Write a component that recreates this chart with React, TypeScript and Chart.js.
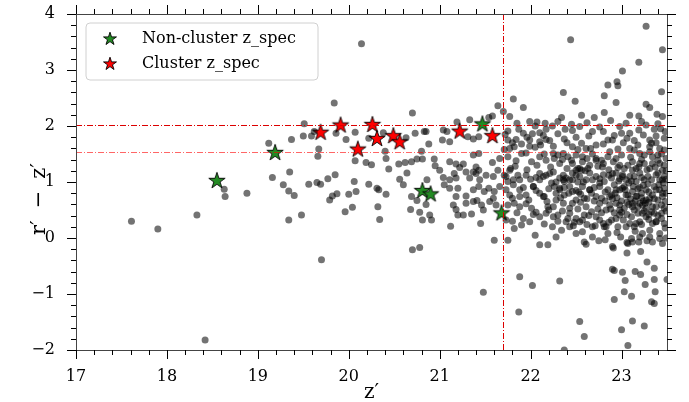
import React, { useEffect, useRef } from 'react';
import { Chart, registerables } from 'chart.js';

Chart.register(...registerables);

// ---------------- data ----------------
const xTicks = [17, 18, 19, 20, 21, 22, 23];
const yTicks = [-2, -1, 0, 1, 2, 3, 4];
const xRange = [17, 23.5];
const yRange = [-2, 4];

const colourCut = [2.02, 1.54]; // horizontal reference lines (r'-z')
const magCut = 21.7; // vertical reference line (z')

const nonClusterSpec: [number, number][] = [
  [18.55, 1.02], [19.19, 1.52], [20.81, 0.84], [20.9, 0.78], [21.47, 2.03], [21.68, 0.44],
];

const clusterSpec: [number, number][] = [
  [19.69, 1.88], [19.91, 2.01], [20.1, 1.58], [20.26, 2.02], [20.31, 1.77],
  [20.49, 1.82], [20.56, 1.71], [21.22, 1.9], [21.58, 1.82],
];

const photometric: [number, number][] = [
  [17.61, 0.3], [17.9, 0.16], [18.33, 0.41], [18.42, -1.82], [18.63, 0.87], [18.64, 0.74], [18.88, 0.8],
  [19.12, 1.69], [19.16, 1.08], [19.28, 0.95], [19.35, 1.18], [19.34, 0.84], [19.4, 0.76], [19.34, 0.32],
  [19.48, 0.41], [19.37, 1.76], [19.5, 1.82], [19.51, 2.04], [19.56, 0.96], [19.59, 1.82], [19.62, 1.9],
  [19.66, 1.46], [19.67, 1.59], [19.65, 0.99], [19.69, 0.96], [19.7, -0.39], [19.77, 1.06], [19.85, 1.13],
  [19.84, 2.41], [19.86, 1.87], [19.79, 0.68], [19.82, 0.75], [19.87, 0.79], [19.96, 0.47], [19.97, 1.76],
  [20.0, 0.78],
  [20.04, 0.55], [20.06, 1.01], [20.07, 1.38], [20.08, 0.83], [20.07, 1.89], [20.14, 3.47], [20.19, 1.35],
  [20.22, 0.96], [20.25, 1.31], [20.22, 1.78], [20.31, 0.89], [20.33, 0.86], [20.32, 0.56], [20.34, 0.33],
  [20.38, 1.88], [20.4, 1.55], [20.41, 1.42], [20.41, 0.78], [20.44, 1.23], [20.55, 1.32], [20.56, 1.05],
  [20.6, 0.95], [20.62, 1.35], [20.64, 1.16], [20.63, 1.79], [20.69, 1.36], [20.7, 2.23], [20.69, 0.74],
  [20.68, 0.51], [20.73, 1.87], [20.7, -0.21], [20.78, -0.17], [20.75, 1.41], [20.75, 0.67], [20.8, 1.55],
  [20.81, 1.41], [20.83, 1.9], [20.85, 1.9], [20.88, 1.68], [20.86, 1.04], [20.85, 0.6], [20.89, 0.41],
  [20.91, 0.32], [20.81, 0.32], [20.78, 0.46], [20.94, 1.41], [20.95, 1.29],
  [21.04, 1.93], [21.08, 1.9], [21.19, 2.07], [21.33, 2.11], [21.03, 1.75], [21.11, 1.72], [21.31, 1.81],
  [21.37, 1.77], [21.43, 1.81], [21.37, 1.48], [21.43, 1.51], [21.58, 1.35], [21.66, 1.42], [21.64, 2.36],
  [21.7, 2.26], [21.58, 2.18], [21.54, 2.15], [21.77, 2.17], [21.81, 2.48], [21.92, 2.33], [21.75, 1.91],
  [21.87, 1.94], [21.92, 1.87], [21.99, 2.08], [22.02, 1.86], [22.07, 2.07], [22.1, 1.88], [22.16, 2.05],
  [22.17, 1.94], [21.75, 1.75], [21.84, 1.76], [21.9, 1.68], [21.99, 1.75], [22.1, 1.72], [22.17, 1.76],
  [21.71, 1.58], [21.77, 1.6], [21.82, 1.63], [21.99, 1.64], [22.11, 1.66], [21.11, 1.36], [21.18, 1.32],
  [21.22, 1.26], [21.26, 1.32], [21.4, 1.27], [21.43, 1.21], [21.37, 1.18], [21.78, 1.24], [21.84, 1.38],
  [21.9, 1.51], [22.01, 1.36], [22.1, 1.45], [22.17, 1.39], [21.0, 1.21], [21.04, 1.08], [21.11, 1.04],
  [21.05, 0.95], [21.16, 1.15], [21.18, 1.07], [21.29, 1.18], [21.33, 1.07], [21.4, 1.15], [21.44, 1.04],
  [21.51, 1.12], [21.59, 1.1], [21.64, 1.21], [21.71, 1.12], [21.75, 1.01], [21.81, 0.95], [21.88, 1.04],
  [21.95, 1.12], [22.06, 1.08], [22.1, 1.15], [22.17, 1.12], [21.11, 0.89], [21.2, 0.89], [21.18, 0.74],
  [21.29, 0.75], [21.37, 0.86], [21.43, 0.92], [21.49, 0.83], [21.54, 0.89], [21.6, 0.83], [21.66, 0.92],
  [21.73, 0.86], [21.77, 0.77], [21.8, 0.71], [21.88, 0.86], [21.95, 0.77], [22.03, 0.92], [22.1, 0.8],
  [22.15, 0.74], [21.15, 0.59], [21.18, 0.51], [21.2, 0.41], [21.26, 0.41], [21.29, 0.62], [21.37, 0.65],
  [21.41, 0.67], [21.46, 0.59], [21.48, 0.5], [21.55, 0.65], [21.59, 0.71], [21.62, 0.59], [21.75, 0.59],
  [21.82, 0.62], [21.88, 0.56], [21.95, 0.61], [22.01, 0.53], [22.06, 0.46], [22.1, 0.38], [22.19, 0.56],
  [21.12, 0.21], [21.35, 0.43], [21.45, 0.26], [21.6, -0.04], [21.73, 0.32], [21.75, -0.04], [21.82, 0.17],
  [21.9, 0.23], [21.92, 0.35], [21.99, 0.29], [22.1, -0.12], [22.19, -0.12],
  [21.48, -0.97], [21.88, -0.69], [21.87, -1.32], [22.02, -0.85], [22.32, -0.77], [22.37, -2.0],
  [22.54, -1.49], [22.59, -1.76], [22.91, -0.18], [23.06, -0.27], [23.21, -0.24], [22.9, -0.56],
  [22.92, -0.58], [23.01, -0.61], [23.04, -0.76], [23.15, -0.6], [23.21, -0.65], [23.28, -0.43],
  [23.36, -0.54], [23.36, -0.74], [23.26, -0.83], [23.03, -0.96], [23.11, -1.04], [23.37, -0.96],
  [22.92, -1.1], [23.33, -1.14], [23.36, -1.17], [23.12, -1.48], [23.0, -1.64], [23.25, -1.57],
  [23.07, -1.92], [23.5, -0.74], [22.59, -0.07], [22.61, -0.11],
  [22.44, 3.54], [23.27, 3.78], [23.45, 3.36], [23.19, 3.14], [23.01, 2.98], [22.95, 2.79], [22.96, 2.72],
  [22.85, 2.73],
  [22.36, 2.6], [22.81, 2.54], [23.44, 2.61], [22.49, 2.44], [22.94, 2.42], [23.27, 2.39], [23.31, 2.33],
  [22.81, 2.24], [22.56, 2.19], [22.7, 2.15], [23.09, 2.19], [23.19, 2.18], [23.39, 2.21], [23.45, 2.17],
  [22.34, 2.15], [22.24, 2.0], [22.38, 1.94], [22.46, 1.92], [22.54, 1.99], [22.64, 1.82], [22.76, 1.98],
  [22.8, 1.9], [22.85, 1.75], [22.9, 1.75], [22.98, 1.99], [23.0, 1.87], [23.09, 1.87], [23.14, 1.74],
  [23.19, 1.93], [23.31, 1.75], [23.33, 1.69], [23.27, 2.02], [23.36, 1.94], [23.43, 1.95], [23.47, 1.78],
  [22.21, 1.74], [22.37, 1.77], [22.46, 1.63], [22.56, 1.69], [22.61, 1.6], [22.72, 1.66], [22.87, 1.54],
  [22.96, 1.59], [23.09, 1.6], [23.14, 1.57], [23.2, 1.51], [23.25, 1.48], [23.31, 1.63], [23.31, 1.54],
  [23.42, 1.6], [23.47, 1.57], [22.26, 1.42], [22.3, 1.48], [22.25, 1.51], [22.36, 1.51], [22.41, 1.45],
  [22.5, 1.48], [22.57, 1.36], [22.65, 1.3], [22.63, 1.24], [22.52, 1.24], [22.56, 1.21], [22.45, 1.39],
  [22.72, 1.42], [22.78, 1.39], [22.8, 1.33], [22.91, 1.36], [22.94, 1.42], [22.98, 1.3], [23.03, 1.24],
  [23.12, 1.36], [23.19, 1.27], [23.25, 1.33], [23.31, 1.24], [23.34, 1.33], [23.4, 1.39], [23.45, 1.21],
  [23.47, 1.3], [22.25, 1.18], [22.36, 1.12], [22.32, 1.07], [22.39, 1.07], [22.43, 1.04], [22.37, 1.01],
  [22.46, 1.16], [22.54, 1.1], [22.52, 1.0], [22.65, 1.16], [22.68, 1.04], [22.72, 1.1], [22.8, 1.13],
  [22.81, 1.01], [22.89, 1.07], [22.94, 1.16], [23.01, 1.13], [23.05, 1.04], [23.09, 1.1], [23.14, 1.1],
  [23.16, 1.01], [23.2, 1.16], [23.25, 1.04], [23.29, 1.1], [23.38, 1.13], [23.42, 1.04], [23.47, 1.1],
  [22.23, 0.98], [22.26, 0.92], [22.32, 0.89], [22.43, 0.92], [22.46, 0.83], [22.57, 0.92], [22.59, 0.71],
  [22.65, 0.86], [22.67, 0.8], [22.76, 0.92], [22.78, 0.71], [22.76, 0.62], [22.85, 0.86], [22.89, 0.77],
  [22.98, 0.86], [23.01, 0.89], [23.07, 0.77], [23.12, 0.83], [23.16, 0.74], [23.22, 0.8], [23.27, 0.86],
  [23.31, 0.71], [23.34, 0.77], [23.38, 0.86], [23.45, 0.8], [23.47, 0.89], [22.28, 0.68], [22.37, 0.77],
  [22.36, 0.62], [22.46, 0.62], [22.5, 0.68], [22.43, 0.53], [22.61, 0.56], [22.67, 0.47], [22.87, 0.59],
  [22.94, 0.62], [22.98, 0.59], [23.03, 0.53], [23.12, 0.62], [23.18, 0.56], [23.23, 0.59], [23.27, 0.53],
  [23.33, 0.47], [23.38, 0.56], [23.44, 0.59], [23.47, 0.53], [22.25, 0.38], [22.3, 0.41], [22.39, 0.29],
  [22.41, 0.35], [22.5, 0.35], [22.54, 0.29], [22.59, 0.41], [22.72, 0.38], [22.76, 0.32], [22.81, 0.2],
  [22.8, 0.26], [22.89, 0.32], [22.96, 0.2], [22.98, 0.41], [23.09, 0.26], [23.14, 0.2], [23.2, 0.29],
  [23.27, 0.38], [23.34, 0.26], [23.38, 0.29], [23.44, 0.35], [23.47, 0.26], [22.24, 0.2], [22.34, 0.14],
  [22.43, 0.2], [22.57, 0.11], [22.68, 0.02], [22.85, 0.08], [22.9, -0.15], [22.99, 0.02], [23.07, -0.1],
  [23.11, -0.01], [23.2, 0.02], [23.23, 0.08], [23.31, 0.02], [23.34, -0.07], [23.42, -0.01], [23.45, -0.1],
  [22.47, 0.22], [22.71, 0.22], [22.82, -0.03], [23.06, -0.08], [23.12, -0.07], [23.19, -0.07],
  [22.5, 1.21], [22.54, 1.24], [22.76, 0.98], [22.94, 0.86], [23.05, 0.77], [23.12, 0.56], [23.2, 0.62],
  [23.27, 0.68], [23.34, 0.56], [23.38, 0.29], [23.23, 0.44], [23.11, 0.38], [22.98, 0.5], [22.87, 0.74],
  [22.65, 0.86], [22.61, 1.04], [22.46, 1.04], [22.36, 1.04], [22.32, 0.86], [22.25, 0.56], [22.14, 0.74],
  [22.17, 0.44], [22.43, 0.44], [22.57, 0.32], [22.68, 0.2], [22.83, 0.2], [22.94, 0.35], [23.05, 0.2],
  [23.16, 0.26], [23.31, 0.14], [23.42, 0.08], [23.45, 1.04], [23.45, 0.74], [23.42, 1.33], [23.34, 1.45],
  [23.2, 1.33], [23.12, 1.21], [23.01, 1.1], [22.9, 1.15], [22.79, 1.27], [22.72, 1.39], [22.57, 1.45],
  [22.46, 1.33], [22.32, 1.33], [22.21, 1.15], [22.1, 1.04], [22.03, 0.92], [21.88, 0.74], [21.81, 1.04],
  [21.77, 1.21], [21.73, 1.1],
  [22.92, 0.95], [22.97, 1.02], [23.03, 0.92], [23.08, 0.98], [23.13, 0.92], [23.18, 0.88], [23.24, 0.94],
  [23.29, 0.97], [23.36, 0.92], [23.41, 0.95], [23.46, 0.98], [22.95, 0.72], [23.0, 0.66], [23.06, 0.64],
  [23.1, 0.7], [23.15, 0.66], [23.22, 0.72], [23.26, 0.62], [23.3, 0.64], [23.4, 0.68], [23.44, 0.44],
  [23.4, 0.4], [23.3, 0.42], [23.18, 0.44], [23.06, 0.42], [22.92, 0.45], [22.83, 0.5], [22.74, 0.52],
  [22.7, 0.66], [22.62, 0.7], [22.55, 0.78], [22.5, 0.85], [22.42, 0.8], [22.28, 0.8], [22.2, 0.88],
  [21.85, 2.05], [22.05, 2.0], [22.3, 2.08], [22.45, 2.03], [22.62, 2.06], [22.88, 2.1], [23.05, 2.05],
  [23.22, 2.08], [23.4, 2.04], [21.72, 1.85], [21.96, 1.8], [22.14, 1.83], [22.3, 1.86], [22.5, 1.8],
  [22.68, 1.9], [22.92, 1.83], [23.06, 1.78], [23.24, 1.84], [23.38, 1.82], [23.48, 1.9], [21.8, 1.7],
  [22.05, 1.62], [22.25, 1.64], [22.4, 1.7], [22.52, 1.58], [22.66, 1.6], [22.8, 1.68], [23.02, 1.7],
  [23.18, 1.66], [23.38, 1.7], [23.44, 1.5], [21.75, 1.45], [21.95, 1.52], [22.15, 1.5], [22.35, 1.4],
  [22.62, 1.42], [22.68, 1.5], [22.85, 1.45], [23.0, 1.48], [23.1, 1.44], [23.22, 1.4], [23.4, 1.48],
  [23.49, 1.42], [21.83, 1.28], [21.96, 1.22], [22.07, 1.3], [22.22, 1.27], [22.4, 1.24], [22.6, 1.2],
  [22.74, 1.28], [22.86, 1.22], [22.96, 1.26], [23.07, 1.3], [23.16, 1.24], [23.28, 1.22], [23.37, 1.27],
  [23.49, 1.2], [21.86, 1.12], [22.0, 1.05], [22.14, 1.1], [22.28, 1.0], [22.5, 1.12], [22.58, 1.0],
  [22.76, 1.06], [22.86, 1.12], [22.98, 1.06], [23.11, 1.02], [23.22, 1.08], [23.33, 1.04], [23.4, 1.16],
  [23.49, 1.05], [21.92, 0.9], [22.06, 0.85], [22.37, 0.9], [22.53, 0.82], [22.7, 0.9], [22.82, 0.82],
  [22.93, 0.8], [23.04, 0.86], [23.2, 0.9], [23.3, 0.82], [23.42, 0.86], [23.49, 0.8], [21.98, 0.68],
  [22.18, 0.65], [22.33, 0.72], [22.55, 0.64], [22.72, 0.74], [22.82, 0.66], [22.9, 0.7], [23.08, 0.6],
  [23.17, 0.75], [23.24, 0.66], [23.36, 0.7], [23.48, 0.65], [21.85, 0.45], [22.03, 0.42], [22.2, 0.5],
  [22.35, 0.48], [22.52, 0.52], [22.64, 0.4], [22.78, 0.45], [22.88, 0.52], [23.0, 0.46], [23.14, 0.5],
  [23.25, 0.48], [23.36, 0.44], [23.49, 0.48], [21.8, 0.3], [22.15, 0.25], [22.3, 0.3], [22.48, 0.28],
  [22.62, 0.24], [22.86, 0.28], [23.02, 0.32], [23.22, 0.24], [23.3, 0.33], [23.48, 0.18], [22.05, 0.05],
  [22.28, 0.02], [22.5, 0.08], [22.75, -0.05], [22.95, 0.1], [23.15, 0.12], [23.28, -0.05], [23.49, 0.0],
];

// ---------------- helpers ----------------
const SERIF = "'DejaVu Serif', serif";

function drawStarPath(ctx: CanvasRenderingContext2D, cx: number, cy: number, R: number) {
  const r = R * 0.382;
  ctx.beginPath();
  for (let k = 0; k < 10; k++) {
    const ang = -Math.PI / 2 + (k * Math.PI) / 5;
    const rad = k % 2 === 0 ? R : r;
    const px = cx + rad * Math.cos(ang);
    const py = cy + rad * Math.sin(ang);
    if (k === 0) ctx.moveTo(px, py);
    else ctx.lineTo(px, py);
  }
  ctx.closePath();
}

function drawStar(ctx: CanvasRenderingContext2D, cx: number, cy: number, R: number, fill: string) {
  drawStarPath(ctx, cx, cy, R);
  ctx.fillStyle = fill;
  ctx.fill();
  ctx.lineWidth = 0.9;
  ctx.strokeStyle = '#000';
  ctx.lineJoin = 'miter';
  ctx.stroke();
}

function starImage(R: number, fill: string) {
  const s = Math.ceil(2 * R + 4);
  const c = document.createElement('canvas');
  c.width = s;
  c.height = s;
  const ctx = c.getContext('2d')!;
  drawStar(ctx, s / 2, s / 2, R, fill);
  return c;
}

const GREEN = '#238b23';
const RED = '#ff0000';

const fmt = (v: number) => (v < 0 ? '\u2212' + Math.abs(v) : String(v));

const decorPlugin = {
  id: 'decor',
  afterDatasetDraw(chart: any, args: any) {
    if (args.index !== 0) return;
    const { ctx, chartArea } = chart;
    const { left, right, top, bottom } = chartArea;
    const xs = chart.scales.x;
    const ys = chart.scales.y;
    ctx.save();
    ctx.beginPath();
    ctx.rect(left, top, right - left, bottom - top);
    ctx.clip();
    ctx.lineWidth = 1;
    ctx.setLineDash([6, 2, 1, 2]);
    const lineCols = ['rgba(220,0,0,1)', 'rgba(255,0,0,0.6)'];
    colourCut.forEach((v, i) => {
      const py = Math.round(ys.getPixelForValue(v)) + 0.5;
      ctx.strokeStyle = lineCols[i];
      ctx.beginPath();
      ctx.moveTo(left, py);
      ctx.lineTo(right, py);
      ctx.stroke();
    });
    const px = Math.round(xs.getPixelForValue(magCut)) + 0.5;
    ctx.strokeStyle = lineCols[0];
    ctx.beginPath();
    ctx.moveTo(px, top);
    ctx.lineTo(px, bottom);
    ctx.stroke();
    ctx.restore();
  },
  afterDraw(chart: any) {
    const { ctx, chartArea } = chart;
    const { left, right, top, bottom } = chartArea;
    const xs = chart.scales.x;
    const ys = chart.scales.y;
    ctx.save();
    // spines
    ctx.lineWidth = 1;
    ctx.strokeStyle = '#444';
    ctx.strokeRect(Math.round(left) + 0.5, Math.round(top) + 0.5, Math.round(right - left), Math.round(bottom - top));
    // ticks (outward, all four sides)
    ctx.strokeStyle = '#000';
    const major = 9;
    const minor = 5;
    const step = 0.2;
    for (let i = 0; ; i++) {
      const v = xRange[0] + i * step;
      if (v > xRange[1] + 1e-9) break;
      const isMaj = Math.abs(v - Math.round(v)) < 1e-6;
      const len = isMaj ? major : minor;
      const p = Math.round(xs.getPixelForValue(v)) + 0.5;
      ctx.beginPath();
      ctx.moveTo(p, bottom);
      ctx.lineTo(p, bottom + len);
      ctx.moveTo(p, top);
      ctx.lineTo(p, top - len);
      ctx.stroke();
    }
    for (let i = 0; ; i++) {
      const v = yRange[0] + i * step;
      if (v > yRange[1] + 1e-9) break;
      const isMaj = Math.abs(v - Math.round(v)) < 1e-6;
      const len = isMaj ? major : minor;
      const p = Math.round(ys.getPixelForValue(v)) + 0.5;
      ctx.beginPath();
      ctx.moveTo(left, p);
      ctx.lineTo(left - len, p);
      ctx.moveTo(right, p);
      ctx.lineTo(right + len, p);
      ctx.stroke();
    }
    // axis titles
    ctx.fillStyle = '#000';
    ctx.font = `20px ${SERIF}`;
    ctx.textAlign = 'center';
    ctx.textBaseline = 'alphabetic';
    ctx.fillText('z\u2032', (left + right) / 2, 398);

    // y title drawn piecewise (math-style spacing)
    ctx.save();
    ctx.font = `21px ${SERIF}`;
    ctx.textAlign = 'left';
    const pieces = ['r\u2032', '\u2212', 'z\u2032'];
    const gap = 12;
    const widths = pieces.map((p) => ctx.measureText(p).width);
    const total = widths.reduce((a, b) => a + b, 0) + gap * 2;
    ctx.translate(45, 199);
    ctx.rotate(-Math.PI / 2);
    let cx = -total / 2;
    pieces.forEach((p, i) => {
      ctx.fillText(p, cx, 0);
      cx += widths[i] + gap;
    });
    ctx.restore();

    // legend
    const lx = 86, ly = 23, lw = 232, lh = 57, rr = 4;
    ctx.beginPath();
    ctx.moveTo(lx + rr, ly);
    ctx.arcTo(lx + lw, ly, lx + lw, ly + lh, rr);
    ctx.arcTo(lx + lw, ly + lh, lx, ly + lh, rr);
    ctx.arcTo(lx, ly + lh, lx, ly, rr);
    ctx.arcTo(lx, ly, lx + lw, ly, rr);
    ctx.closePath();
    ctx.fillStyle = 'rgba(255,255,255,0.8)';
    ctx.fill();
    ctx.strokeStyle = '#d0d0d0';
    ctx.lineWidth = 1;
    ctx.stroke();
    const items: [string, string][] = [
      ['Non-cluster z_spec', GREEN],
      ['Cluster z_spec', RED],
    ];
    items.forEach(([label, col], i) => {
      const cy = 39 + i * 25;
      drawStar(ctx, 110, cy, 6.8, col);
      ctx.fillStyle = '#000';
      ctx.font = `16px ${SERIF}`;
      ctx.textAlign = 'left';
      ctx.textBaseline = 'middle';
      ctx.fillText(label, 142, cy);
    });
    ctx.restore();
  },
};

export default function App() {
  const ref = useRef<HTMLCanvasElement | null>(null);
  useEffect(() => {
    document.body.style.margin = '0';
    const canvas = ref.current!;
    const tickFont = { family: SERIF, size: 16 };
    const chart = new Chart(canvas, {
      type: 'scatter',
      data: {
        datasets: [
          {
            label: 'photometric',
            data: photometric.map(([x, y]) => ({ x, y })),
            backgroundColor: 'rgba(0,0,0,0.55)',
            borderWidth: 0,
            pointRadius: 3.5,
            clip: 0,
          },
          {
            label: 'Non-cluster z_spec',
            data: nonClusterSpec.map(([x, y]) => ({ x, y })),
            pointStyle: starImage(8.6, GREEN) as any,
            clip: 0,
          },
          {
            label: 'Cluster z_spec',
            data: clusterSpec.map(([x, y]) => ({ x, y })),
            pointStyle: starImage(8.6, RED) as any,
            clip: 0,
          },
        ],
      },
      options: {
        animation: false,
        responsive: false,
        devicePixelRatio: 1,
        events: [],
        layout: { padding: { top: 14, right: 22, left: 0, bottom: 0 } },
        plugins: { legend: { display: false }, tooltip: { enabled: false } },
        scales: {
          x: {
            type: 'linear',
            min: xRange[0],
            max: xRange[1],
            grid: { display: false },
            border: { display: false },
            afterBuildTicks: (s: any) => {
              s.ticks = xTicks.map((v) => ({ value: v }));
            },
            afterFit: (s: any) => {
              s.height = 52;
              s.paddingLeft = 0;
              s.paddingRight = 0;
            },
            ticks: { font: tickFont, color: '#000', padding: 9, maxRotation: 0, autoSkip: false, callback: (v: any) => fmt(Number(v)) },
          },
          y: {
            type: 'linear',
            min: yRange[0],
            max: yRange[1],
            grid: { display: false },
            border: { display: false },
            afterBuildTicks: (s: any) => {
              s.ticks = yTicks.map((v) => ({ value: v }));
            },
            afterFit: (s: any) => {
              s.width = 76;
              s.paddingTop = 0;
              s.paddingBottom = 0;
            },
            ticks: { font: tickFont, color: '#000', padding: 13, autoSkip: false, callback: (v: any) => fmt(Number(v)) },
          },
        },
      },
      plugins: [decorPlugin],
    });
    return () => chart.destroy();
  }, []);
  return <canvas ref={ref} width={689} height={402} style={{ display: 'block' }} />;
}
